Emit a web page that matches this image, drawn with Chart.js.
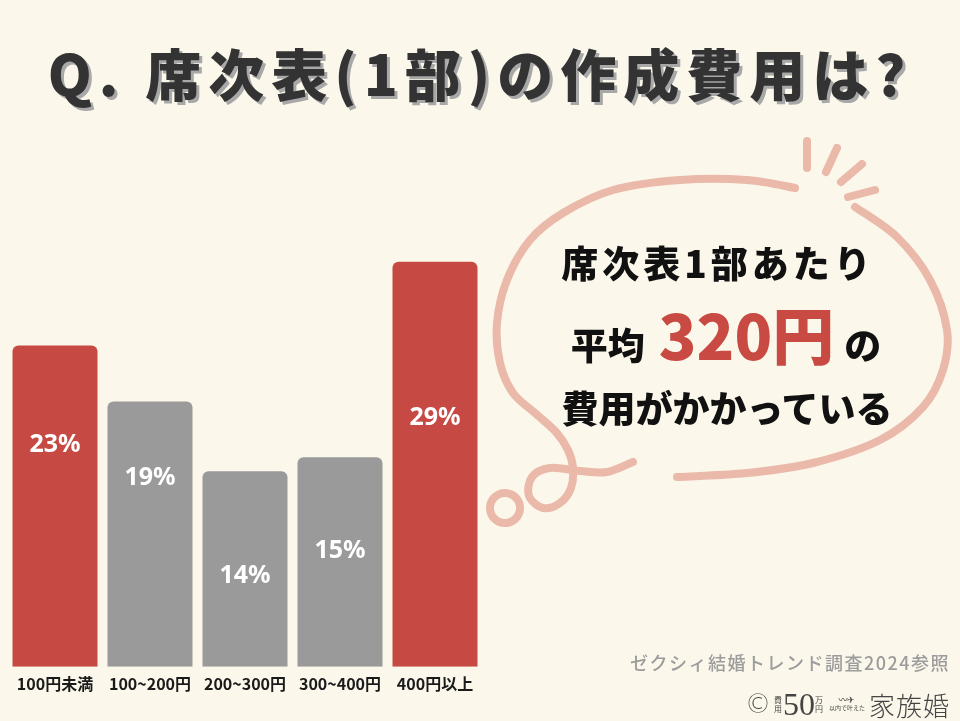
<!DOCTYPE html>
<html><head><meta charset="utf-8">
<script src="https://cdn.jsdelivr.net/npm/chart.js@4/dist/chart.umd.min.js"></script>
<style>
html,body{margin:0;padding:0;background:#FBF8EB;}
#wrap{position:relative;width:960px;height:721px;overflow:hidden;background:#FBF8EB;font-family:"Noto Sans CJK JP","Noto Sans",sans-serif;}
#c{position:absolute;left:0;top:0;}
svg{position:absolute;left:0;top:0;pointer-events:none;}
.t{position:absolute;white-space:nowrap;}
#title{left:0;width:960px;top:32px;text-align:center;font-size:56px;font-weight:900;color:#333;letter-spacing:7px;line-height:80px;text-shadow:3px 3px 0 #A8A8A8;}
.bl{width:400px;text-align:center;font-weight:900;color:#111;font-size:37px;line-height:50px;}
.red{color:#C84A43;font-size:62px;margin:0 10px 0 14px;letter-spacing:0;}
#src{right:10px;top:648px;font-size:18px;font-weight:500;color:#9C9C9C;letter-spacing:1.5px;line-height:28px;}
#logo{right:10px;top:688px;height:32px;color:#444;display:flex;align-items:center;}
</style></head>
<body><div id="wrap">
<canvas id="c" width="960" height="721"></canvas>
<svg id="bub" width="960" height="721"></svg>
<div id="title" class="t">Q. 席次表(1部)の作成費用は?</div>
<div class="t bl" style="top:237px;left:518px;letter-spacing:4px;">席次表1部あたり</div>
<div class="t bl" style="top:298px;left:526px;line-height:70px;">平均<span class="red">320円</span>の</div>
<div class="t bl" style="top:382px;left:527px;">費用がかかっている</div>
<div id="src" class="t">ゼクシィ結婚トレンド調査2024参照</div>
<div id="logo" class="t">
 <span style="font-family:'DejaVu Sans';font-size:26px;font-weight:300;margin-right:3px;">©</span>
 <span style="display:inline-flex;flex-direction:column;font-size:8px;line-height:9px;margin-right:1px;">費<br>用</span>
 <span style="font-family:'Liberation Serif';font-size:32px;line-height:32px;">50</span>
 <span style="display:inline-flex;flex-direction:column;font-size:8px;line-height:9px;margin-right:6px;">万<br>円</span>
 <span style="display:inline-flex;flex-direction:column;align-items:center;font-size:6px;line-height:8px;margin-right:4px;"><span style="font-size:9px;">〰✈</span>以内で叶えた</span>
 <span style="font-size:26px;font-weight:300;letter-spacing:1px;">家族婚</span>
</div>
</div>
<script>
// ---- data ----
const categories = ['100円未満', '100~200円', '200~300円', '300~400円', '400円以上'];
const shares = [23, 19, 14, 15, 29];
const highlighted = [true, false, false, false, true];
// where each percentage label sits, in value units
const labelAnchors = [15.9, 13.5, 6.5, 8.3, 17.8];

// ---- decoration: speech bubble ----
function smoothPath(pts){
  let d = 'M' + pts[0][0] + ',' + pts[0][1];
  for (let i = 0; i < pts.length - 1; i++) {
    const p0 = pts[i-1] || pts[i], p1 = pts[i], p2 = pts[i+1], p3 = pts[i+2] || p2;
    const c1 = [p1[0] + (p2[0]-p0[0])/6, p1[1] + (p2[1]-p0[1])/6];
    const c2 = [p2[0] - (p3[0]-p1[0])/6, p2[1] - (p3[1]-p1[1])/6];
    d += ' C' + c1.join(',') + ' ' + c2.join(',') + ' ' + p2.join(',');
  }
  return d;
}
const leftArc = [[795,188],[747,180],[680,180],[613,190],[563,213],[530,240],[507,280],[497,323],[500,363],[513,393],[535,413],[556,432],[568,450],[573,468],[571,488],[560,503],[543,508],[529,496],[532,477],[550,468],[580,471],[607,472],[633,462]];
const rightArc = [[855,207],[897,237],[930,280],[947,330],[943,370],[923,407],[880,440],[813,463],[747,473],[677,477]];
const sparks = [[807,141,807,168],[837,148,826,172],[862,164,841,182],[875,190,848,197]];
const col = '#EBB9A9';
let svg = '';
svg += '<path d="' + smoothPath(leftArc) + '" fill="none" stroke="' + col + '" stroke-width="8" stroke-linecap="round" stroke-linejoin="round"/>';
svg += '<path d="' + smoothPath(rightArc) + '" fill="none" stroke="' + col + '" stroke-width="8" stroke-linecap="round"/>';
svg += '<circle cx="505" cy="508" r="15" fill="none" stroke="' + col + '" stroke-width="8"/>';
sparks.forEach(s => { svg += '<line x1="' + s[0] + '" y1="' + s[1] + '" x2="' + s[2] + '" y2="' + s[3] + '" stroke="' + col + '" stroke-width="8" stroke-linecap="round"/>'; });
document.getElementById('bub').innerHTML = svg;

// ---- chart ----
const labelPlugin = {
  id: 'barLabels',
  afterDatasetsDraw(chart) {
    const ctx = chart.ctx, meta = chart.getDatasetMeta(0), y = chart.scales.y;
    ctx.save();
    ctx.font = '700 25px "Noto Sans", sans-serif';
    ctx.fillStyle = '#FFFFFF';
    ctx.textAlign = 'center';
    ctx.textBaseline = 'middle';
    meta.data.forEach((bar, i) => {
      ctx.fillText(shares[i] + '%', bar.x, y.getPixelForValue(labelAnchors[i]));
    });
    ctx.restore();
  }
};

new Chart(document.getElementById('c'), {
  type: 'bar',
  data: {
    labels: categories,
    datasets: [{
      data: shares,
      backgroundColor: highlighted.map(h => h ? '#C64A43' : '#9A9A9A'),
      borderRadius: {topLeft: 6, topRight: 6, bottomLeft: 0, bottomRight: 0},
      borderSkipped: 'bottom',
      barPercentage: 0.895,
      categoryPercentage: 1
    }]
  },
  options: {
    responsive: false,
    animation: false,
    devicePixelRatio: 1,
    layout: {padding: {left: 7.5, right: 477.5, top: 178, bottom: 27}},
    plugins: {legend: {display: false}, tooltip: {enabled: false}},
    scales: {
      y: {display: false, min: 0, max: 35},
      x: {
        grid: {display: false},
        border: {display: false},
        ticks: {color: '#1A1A1A', padding: 0, font: {family: '"Noto Sans CJK JP"', size: 16, weight: '700'}}
      }
    }
  },
  plugins: [labelPlugin]
});
</script>
</body></html>
